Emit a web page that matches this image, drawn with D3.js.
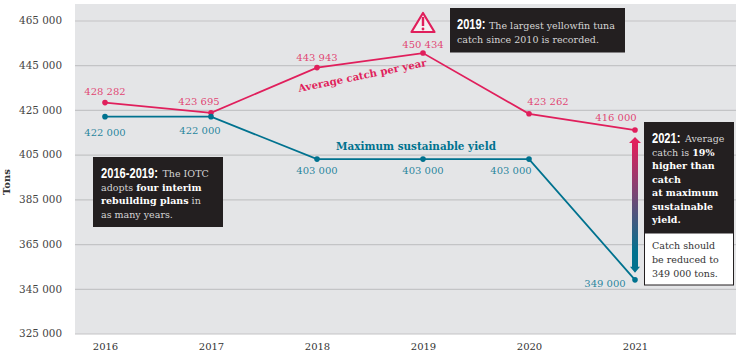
<!DOCTYPE html>
<html><head><meta charset="utf-8">
<script src="https://cdn.jsdelivr.net/npm/d3@7/dist/d3.min.js"></script>
<style>
html,body{margin:0;padding:0;background:#fff}
svg{display:block}
text{font-family:"DejaVu Serif",serif}
</style></head><body>
<svg id="c" width="736" height="357"></svg>
<script>
const years=[2016,2017,2018,2019,2020,2021];
const catchValues=[428282,423695,443943,450434,423262,416000];
const msyValues=[422000,422000,403000,403000,403000,349000];
const yTicks=[325000,345000,365000,385000,405000,425000,445000,465000];
const catchLabelOffsets=[[0,-8],[-12,-8],[0,-7],[0,-5],[19,-9],[-19,-9]];
const msyLabelOffsets=[[0,19],[-11,17],[0,15],[0,15],[-18,15],[-30,7]];

const PINK="#e01f5c",TEAL="#00728f",DARK="#231f20",BG="#e4e5e7",GRID="#c3c4c6";
const fmt=v=>d3.format(",")(v).replace(",", " ");
const svg=d3.select("#c");
const x=d3.scalePoint().domain(years).range([105,635]);
const y=d3.scaleLinear().domain([325000,465000]).range([333.5,20.5]);

svg.append("rect").attr("x",75).attr("y",4).attr("width",661).attr("height",330).attr("fill",BG);

const yAxis=svg.append("g").attr("transform","translate(75,0)")
  .call(d3.axisLeft(y).tickValues(yTicks).tickFormat(fmt).tickSize(-661).tickPadding(13));
yAxis.select(".domain").remove();
yAxis.selectAll("line").attr("stroke",GRID).attr("stroke-width",1.2);
yAxis.selectAll("text").attr("fill","#444").attr("font-size",10.4);

const xAxis=svg.append("g").attr("transform","translate(0,333.5)")
  .call(d3.axisBottom(x).tickSize(0).tickPadding(9).tickFormat(d3.format("d")));
xAxis.select(".domain").remove();
xAxis.selectAll("text").attr("fill","#333").attr("font-size",10);

svg.append("text").attr("transform","translate(10,182) rotate(-90)").attr("text-anchor","middle")
  .attr("font-size",10).attr("font-weight",700).attr("fill","#333").text("Tons");

const defs=svg.append("defs");
const g=defs.append("linearGradient").attr("id","arrowGrad").attr("x1",0).attr("x2",0).attr("y1",0).attr("y2",1);
g.append("stop").attr("offset","5%").attr("stop-color",PINK);
g.append("stop").attr("offset","85%").attr("stop-color",TEAL);

function series(vals,color,offs){
  const line=d3.line().x((d,i)=>x(years[i])).y(d=>y(d));
  svg.append("path").attr("d",line(vals)).attr("fill","none").attr("stroke",color).attr("stroke-width",1.8);
  svg.selectAll(null).data(vals).join("circle").attr("cx",(d,i)=>x(years[i])).attr("cy",d=>y(d)).attr("r",2.8).attr("fill",color);
  svg.selectAll(null).data(vals).join("text").attr("x",(d,i)=>x(years[i])+offs[i][0]).attr("y",(d,i)=>y(d)+offs[i][1])
    .attr("text-anchor","middle").attr("font-size",10).attr("fill",color).attr("fill-opacity",.85).text(fmt);
}
series(catchValues,PINK,catchLabelOffsets);
series(msyValues,TEAL,msyLabelOffsets);

svg.append("text").attr("transform","translate(363,79) rotate(-11.5)").attr("text-anchor","middle")
  .attr("font-size",10.2).attr("font-weight",700).attr("fill",PINK).text("Average catch per year");
svg.append("text").attr("x",416).attr("y",150).attr("text-anchor","middle")
  .attr("font-size",10.4).attr("font-weight",700).attr("fill",TEAL).text("Maximum sustainable yield");

// warning icon
const wx=x(2019);
const icon=svg.append("g").attr("transform",`translate(${wx},0)`);
icon.append("path").attr("d","M0,13 L11.5,32 L-11.5,32 Z").attr("fill","#f4f1f2").attr("stroke",PINK).attr("stroke-width",2.2).attr("stroke-linejoin","round");
icon.append("rect").attr("x",-1.2).attr("y",17).attr("width",2.4).attr("height",9).attr("fill",PINK);
icon.append("circle").attr("cx",0).attr("cy",29).attr("r",1.4).attr("fill",PINK);

// gap arrow
const ax=x(2021),a1=y(416000)+7,a2=y(349000)-7;
svg.append("path").attr("fill","url(#arrowGrad)").attr("d",
 `M${ax},${a1} L${ax+6},${a1+6} L${ax+3},${a1+6} L${ax+3},${a2-6} L${ax+5},${a2-6} L${ax},${a2} L${ax-5},${a2-6} L${ax-3},${a2-6} L${ax-3},${a1+6} L${ax-6},${a1+6} Z`);

function box(bx,by,w,h,fill,stroke){svg.append("rect").attr("x",bx).attr("y",by).attr("width",w).attr("height",h).attr("fill",fill).attr("stroke",stroke||"none");}
function head(tx,ty,txt,w){
  const t=svg.append("text").style("font-family","'Liberation Sans',sans-serif").attr("font-weight",700)
    .attr("font-size",14.5).attr("fill","#fff").text(txt);
  const k=w/t.node().getComputedTextLength();
  t.attr("transform",`translate(${tx},${ty}) scale(${k},1)`);
}
function lines(tx,rows,size){
  rows.forEach(r=>{
    const t=svg.append("text").attr("x",r.x||tx).attr("y",r.y).attr("font-size",size);
    r.parts.forEach(p=>{
      const s=t.append("tspan").text(p.t).attr("fill",p.c);
      if(p.b)s.attr("font-weight",700);
    });
  });
}
const W="#fff",L="#d5d5d5",S=9.5;
box(93,157,130,70,DARK);
head(101,177.5,"2016-2019:",57);
lines(101,[
 {x:162.5,y:177,parts:[{t:"The IOTC",c:L}]},
 {y:190.5,parts:[{t:"adopts ",c:L},{t:"four interim",c:W,b:1}]},
 {y:204,parts:[{t:"rebuilding plans",c:W,b:1},{t:" in",c:L}]},
 {y:217.5,parts:[{t:"as many years.",c:L}]}
],S);
box(450,8,175,44.5,DARK);
head(457,29,"2019:",28.5);
lines(457,[
 {x:489,y:29,parts:[{t:"The largest yellowfin tuna",c:L}]},
 {y:42.5,parts:[{t:"catch since 2010 is recorded.",c:L}]}
],S);
box(644,122,90,111,DARK);
head(652,142.5,"2021:",28.5);
lines(652,[
 {x:685,y:142,parts:[{t:"Average",c:L}]},
 {y:155.5,parts:[{t:"catch is ",c:L},{t:"19%",c:W,b:1}]},
 {y:169,parts:[{t:"higher than",c:W,b:1}]},
 {y:182.5,parts:[{t:"catch",c:W,b:1}]},
 {y:196,parts:[{t:"at maximum",c:W,b:1}]},
 {y:209.5,parts:[{t:"sustainable",c:W,b:1}]},
 {y:223,parts:[{t:"yield.",c:W,b:1}]}
],S);
box(644.5,233,89,52,"#fff",DARK);
lines(652,[
 {y:248.5,parts:[{t:"Catch should",c:"#333"}]},
 {y:262.5,parts:[{t:"be reduced to",c:"#333"}]},
 {y:276.5,parts:[{t:"349 000 tons.",c:"#333"}]}
],S);
</script></body></html>
